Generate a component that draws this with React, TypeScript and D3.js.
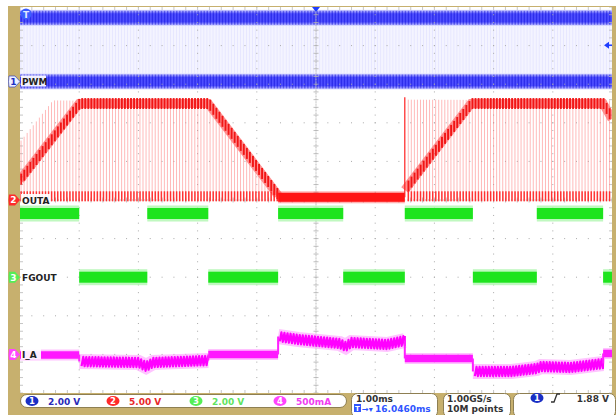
import React from "react";
import * as d3 from "d3";

const W = 616;
const H = 415;
const PX0 = 20, PX1 = 612, PY0 = 7, PY1 = 393;

const TIME_DOMAIN: [number, number] = [-5, 5]; // ms, 1.00 ms/div
const DIV_DOMAIN: [number, number] = [-5, 5]; // vertical divisions
const PWM_PERIOD_MS = 0.0515;

const CH_NUM = ["1", "2", "3", "4"];
const CH_LABEL = ["PWM", "OUTA", "FGOUT", "I_A"];
const CH_PER_DIV = [2, 5, 2, 500];
const CH_OFFSET_DIV = [3.07, 0, -2.0, -4.0];
const CH_READOUT = ["2.00 V", "5.00 V", "2.00 V", "500mA"];
const CH_READOUT_COLOR = ["#2a2ab8", "#e8282a", "#5fe45f", "#f03cf0"];
const CH_BADGE = ["#1a2fc4", "#ff2a2a", "#55ee55", "#ff44ff"];
const CH_READOUT_X = [32, 113, 196, 280];

// Channel 1 (PWM) levels, V
const PWM_LEVELS = [3.3, 0];

// Channel 2 (OUTA), V
const OUTA_ENV_T = [-5, -4.0, -1.82, -0.64, 1.5, 2.62, 4.85, 5];
const OUTA_ENV_V = [2.6, 12.5, 12.5, 0.6, 1.3, 12.5, 12.5, 10.5];
const OUTA_PEAK_T = [-5, -4.45, -1.82, -0.64, 1.5, 5];
const OUTA_PEAK_V = [7.6, 12.9, 12.7, 0.6, 13.0, 12.9];
const OUTA_ON_START = [-5, 1.5];
const OUTA_ON_END = [-0.64, 5];
const OUTA_LOW_V = 0.35;
const OUTA_SPIKE_T = 1.5;
const OUTA_SPIKE_V = 13.3;

// Channel 3 (FGOUT), V
const FG_EDGE_T = [-4.0, -2.85, -1.82, -0.64, 0.46, 1.5, 2.65, 3.73, 4.85];
const FG_LEVEL_V = [3.3, 0, 3.3, 0, 3.3, 0, 3.3, 0, 3.3, 0];

// Channel 4 (I_A), mA
const IA_SEG_T = [
  [-5, -4.0],
  [-4.0, -3.0, -2.87, -2.75, -1.82],
  [-1.82, -0.64],
  [-0.64, -0.3, 0.4, 0.5, 0.6, 1.2, 1.5],
  [1.5, 2.65],
  [2.65, 3.3, 3.73, 3.8, 4.3, 4.85],
  [4.85, 5],
];
const IA_SEG_MA = [
  [-8, -8],
  [-92, -105, -157, -105, -79],
  [-1, -1],
  [232, 193, 141, 102, 154, 128, 180],
  [-53, -53],
  [-221, -221, -183, -157, -170, -118],
  [12, 12],
];
const IA_SEG_RIPPLE = [false, true, false, true, false, true, false];
const IA_RIPPLE_PP = 120;

const FONT = "'DejaVu Sans', sans-serif";
const TAN = "#c7b06e";

export default function App() {
  const x = d3.scaleLinear().domain(TIME_DOMAIN).range([PX0, PX1]);
  const yDiv = d3.scaleLinear().domain(DIV_DOMAIN).range([PY1, PY0]);
  const yCh = (k: number) => (v: number) => yDiv(v / CH_PER_DIV[k] + CH_OFFSET_DIV[k]);
  const y1 = yCh(0), y2 = yCh(1), y3 = yCh(2), y4 = yCh(3);

  const nCycles = Math.floor((TIME_DOMAIN[1] - TIME_DOMAIN[0]) / PWM_PERIOD_MS);
  const cycles = d3.range(nCycles + 1).map((i) => TIME_DOMAIN[0] + 0.01 + i * PWM_PERIOD_MS).filter((t) => t < TIME_DOMAIN[1]);

  // grid
  const majors = d3.range(-4, 5);
  const minorT = d3.range(-5, 5.0001, 0.2);
  const minorD = d3.range(-5, 5.0001, 0.2);
  const fineD = d3.range(-5, 5.0001, 0.04);
  const gridEls: any[] = [];
  majors.forEach((m) => {
    if (m === 0) return;
    const gx = x(m);
    minorD.forEach((d, i) => gridEls.push(<rect key={`gv${m}-${i}`} x={gx - 0.5} y={yDiv(d) - 0.5} width={1} height={1} fill="#a9a9a9" />));
    const gy = yDiv(m);
    minorT.forEach((t, i) => gridEls.push(<rect key={`gh${m}-${i}`} x={x(t) - 0.5} y={gy - 0.5} width={1} height={1} fill="#a9a9a9" />));
  });
  fineD.forEach((d, i) => gridEls.push(<rect key={`cv${i}`} x={x(0) - 0.5} y={yDiv(d) - 0.5} width={1} height={1} fill="#b8b8b8" />));
  d3.range(-5, 5.0001, 0.05).forEach((t, i) => gridEls.push(<rect key={`ch${i}`} x={x(t) - 0.5} y={yDiv(0) - 0.5} width={1} height={1} fill="#b8b8b8" />));
  minorD.forEach((d, i) => {
    gridEls.push(<line key={`cvt${i}`} x1={x(0) - 2.5} x2={x(0) + 2.5} y1={yDiv(d)} y2={yDiv(d)} stroke="#b0b0b0" strokeWidth={0.8} />);
    gridEls.push(<line key={`lt${i}`} x1={PX0} x2={PX0 + 3} y1={yDiv(d)} y2={yDiv(d)} stroke="#b8b8b8" strokeWidth={0.8} />);
    gridEls.push(<line key={`rt${i}`} x1={PX1 - 3} x2={PX1} y1={yDiv(d)} y2={yDiv(d)} stroke="#b8b8b8" strokeWidth={0.8} />);
  });
  minorT.forEach((t, i) => {
    gridEls.push(<line key={`cht${i}`} x1={x(t)} x2={x(t)} y1={yDiv(0) - 2.5} y2={yDiv(0) + 2.5} stroke="#b0b0b0" strokeWidth={0.8} />);
    gridEls.push(<line key={`tt${i}`} x1={x(t)} x2={x(t)} y1={PY0} y2={PY0 + 3} stroke="#b8b8b8" strokeWidth={0.8} />);
    gridEls.push(<line key={`bt${i}`} x1={x(t)} x2={x(t)} y1={PY1 - 3} y2={PY1} stroke="#b8b8b8" strokeWidth={0.8} />);
  });

  // ---- Channel 1 PWM
  const hiY = y1(PWM_LEVELS[0]);
  const loY = y1(PWM_LEVELS[1]);
  const bandH = 16;
  const ch1Els: any[] = [];
  ch1Els.push(<rect key="c1mid" x={PX0} y={hiY + bandH / 2} width={PX1 - PX0} height={loY - hiY - bandH} fill="#f4f4ff" />);
  ch1Els.push(<rect key="c1hi" x={PX0} y={hiY - bandH / 2} width={PX1 - PX0} height={bandH} fill="url(#blueBand)" />);
  ch1Els.push(<rect key="c1lo" x={PX0} y={loY - bandH / 2} width={PX1 - PX0} height={bandH} fill="url(#blueBand)" />);
  cycles.forEach((t, i) => {
    const cx = x(t);
    ch1Els.push(<rect key={`c1s${i}`} x={cx} y={hiY - bandH / 2 + 1} width={1.4} height={bandH - 2} fill="#0000d0" opacity={0.42} />);
    ch1Els.push(<rect key={`c1l${i}`} x={cx} y={loY - bandH / 2 + 1} width={1.4} height={bandH - 2} fill="#0000d0" opacity={0.42} />);
    ch1Els.push(<rect key={`c1m${i}`} x={cx} y={hiY + bandH / 2} width={0.7} height={loY - hiY - bandH} fill="#c4c4ff" opacity={0.35} />);
  });

  // ---- Channel 2 OUTA
  const env = d3.scaleLinear().domain(OUTA_ENV_T).range(OUTA_ENV_V);
  const peak = d3.scaleLinear().domain(OUTA_PEAK_T).range(OUTA_PEAK_V);
  const lowY = y2(OUTA_LOW_V);
  const isOn = (t: number) => OUTA_ON_START.some((s, i) => t >= s && t <= OUTA_ON_END[i]);
  const ch2Els: any[] = [];
  const lineGen = d3.line<[number, number]>().x((d) => x(d[0])).y((d) => y2(d[1]));
  OUTA_ON_START.forEach((s, i) => {
    const e = OUTA_ON_END[i];
    const ts = [s, ...OUTA_ENV_T.filter((t) => t > s && t < e), e];
    ch2Els.push(<path key={`envb${i}`} d={lineGen(ts.map((t) => [t, env(t)]) as any) || ""} stroke="#ff4a4a" strokeWidth={9} fill="none" opacity={0.6} />);
  });
  cycles.filter(isOn).forEach((t, i) => {
    const cx = x(t);
    const ey = y2(env(t));
    const py = Math.min(y2(peak(t)), ey);
    ch2Els.push(<rect key={`c2s${i}`} x={cx} y={py} width={0.9} height={lowY + 4 - py} fill="#ff8080" opacity={0.6} />);
    ch2Els.push(<rect key={`c2e${i}`} x={cx - 0.3} y={ey - 5.5} width={1.9} height={11} fill="#ee0000" opacity={0.85} />);
    ch2Els.push(<rect key={`c2b${i}`} x={cx - 0.2} y={lowY - 6} width={1.5} height={10} fill="#ff1a1a" opacity={0.85} />);
  });
  ch2Els.push(<rect key="c2off2" x={x(OUTA_ON_END[0])} y={lowY - 6} width={x(OUTA_ON_START[1]) - x(OUTA_ON_END[0])} height={12} fill="#ff4040" opacity={0.4} />);
  ch2Els.push(<rect key="c2off" x={x(OUTA_ON_END[0])} y={lowY - 4.5} width={x(OUTA_ON_START[1]) - x(OUTA_ON_END[0])} height={9} fill="#ff1414" />);
  ch2Els.push(<line key="spike" x1={x(OUTA_SPIKE_T)} x2={x(OUTA_SPIKE_T)} y1={y2(OUTA_SPIKE_V)} y2={lowY} stroke="#ff2020" strokeWidth={1.2} />);

  // ---- Channel 3 FGOUT
  const fgBounds = [TIME_DOMAIN[0], ...FG_EDGE_T, TIME_DOMAIN[1]];
  const ch3Els: any[] = [];
  FG_LEVEL_V.forEach((v, i) => {
    const x0 = x(fgBounds[i]);
    const x1 = x(fgBounds[i + 1]);
    const cy = y3(v);
    ch3Els.push(<rect key={`fgh${i}`} x={x0} y={cy - 8} width={x1 - x0} height={16} fill="#b0f6b0" opacity={0.8} />);
    ch3Els.push(<rect key={`fgc${i}`} x={x0} y={cy - 5.5} width={x1 - x0} height={11} fill="#1ee41e" />);
  });

  // ---- Channel 4 I_A
  const iaLine = d3.line<[number, number]>().x((d) => x(d[0])).y((d) => y4(d[1]));
  const ch4Els: any[] = [];
  IA_SEG_T.forEach((segT, si) => {
    const c = d3.scaleLinear().domain(segT).range(IA_SEG_MA[si]);
    const t0 = segT[0], t1 = segT[segT.length - 1];
    const centre = segT.map((t, j) => [t, IA_SEG_MA[si][j]] as [number, number]);
    if (!IA_SEG_RIPPLE[si]) {
      ch4Els.push(<path key={`iah${si}`} d={iaLine(centre) || ""} stroke="#ffa8ff" strokeWidth={11} fill="none" opacity={0.7} />);
      ch4Els.push(<path key={`iac${si}`} d={iaLine(centre) || ""} stroke="#ff18ff" strokeWidth={7.5} fill="none" />);
    } else {
      const pts: [number, number][] = [];
      cycles.filter((t) => t >= t0 && t < t1).forEach((t) => {
        pts.push([t, c(t) - IA_RIPPLE_PP / 2]);
        const tm = Math.min(t + PWM_PERIOD_MS * 0.55, t1);
        pts.push([tm, c(tm) + IA_RIPPLE_PP / 2]);
      });
      ch4Els.push(<path key={`iah${si}`} d={iaLine(centre) || ""} stroke="#ff9cff" strokeWidth={15} fill="none" opacity={0.6} />);
      ch4Els.push(<path key={`iaz${si}`} d={iaLine(pts) || ""} stroke="#ff00ff" strokeWidth={2.2} fill="none" strokeLinejoin="round" />);
    }
  });
  IA_SEG_T.forEach((segT, si) => {
    if (si === 0) return;
    const prev = IA_SEG_MA[si - 1][IA_SEG_MA[si - 1].length - 1];
    const next = IA_SEG_MA[si][0];
    const t = segT[0];
    ch4Els.push(<line key={`iaj${si}`} x1={x(t)} x2={x(t)} y1={y4(prev)} y2={y4(next)} stroke="#ff20ff" strokeWidth={2} />);
  });

  const ground = [y1(0), y2(0), y3(0), y4(0)];
  const labelW = [25, 29, 35, 20];

  return (
    <svg width={W} height={H} style={{ position: "absolute", left: 0, top: 0, background: "#fff" }} fontFamily={FONT}>
      <defs>
        <linearGradient id="blueBand" x1="0" x2="0" y1="0" y2="1">
          <stop offset="0" stopColor="#4040ff" stopOpacity={0.2} />
          <stop offset="0.25" stopColor="#4040ff" stopOpacity={0.92} />
          <stop offset="0.75" stopColor="#4040ff" stopOpacity={0.92} />
          <stop offset="1" stopColor="#4040ff" stopOpacity={0.2} />
        </linearGradient>
        <clipPath id="plotClip">
          <rect x={PX0} y={PY0} width={PX1 - PX0} height={PY1 - PY0} />
        </clipPath>
      </defs>
      <rect x={8} y={6} width={W - 8} height={H - 6} fill={TAN} />
      <rect x={PX0} y={PY0} width={PX1 - PX0} height={PY1 - PY0} fill="#ffffff" />
      <g clipPath="url(#plotClip)">
        <g>{ch1Els}</g>
        <g>{gridEls}</g>
        <g>{ch2Els}</g>
        <g>{ch3Els}</g>
        <g>{ch4Els}</g>
      </g>

      {/* trigger markers */}
      <circle cx={26} cy={14} r={5.5} fill="#3b5cff" />
      <text x={26} y={17.5} fontSize={9} fontWeight="bold" fill="#dfe6ff" textAnchor="middle">T</text>
      <path d={`M${x(0) - 4},${PY0} L${x(0) + 4},${PY0} L${x(0)},${PY0 + 5} Z`} fill="#1e3cff" />
      <path d={`M${PX1 - 8},${y1(1.88)} L${PX1 - 3},${y1(1.88) - 3.5} L${PX1 - 3},${y1(1.88) + 3.5} Z`} fill="#1e3cff" />
      <line x1={PX1 - 4} x2={PX1} y1={y1(1.88)} y2={y1(1.88)} stroke="#1e3cff" strokeWidth={1.5} />

      {/* ground markers + labels */}
      {CH_NUM.map((n, k) => {
        const gy = ground[k];
        const fill = k === 0 ? "#eef0ff" : CH_BADGE[k];
        const tc = k === 0 ? "#1a2fc4" : "#ffffff";
        return (
          <g key={`gm${k}`}>
            <path d={`M9,${gy - 5.5} H15 L20,${gy} L15,${gy + 5.5} H9 Q8,${gy} 9,${gy - 5.5} Z`} fill={fill} stroke={k === 0 ? "#1a2fc4" : "none"} strokeWidth={0.6} />
            <text x={13.5} y={gy + 3.3} fontSize={9} fontWeight="bold" fill={tc} textAnchor="middle">{n}</text>
            <rect x={21} y={gy - 6} width={labelW[k]} height={11} fill="#ffffff" opacity={0.92} />
            <text x={22} y={gy + 3.5} fontSize={9} fontWeight="bold" fill="#222">{CH_LABEL[k]}</text>
          </g>
        );
      })}

      {/* status bar */}
      <rect x={20.5} y={394.5} width={326} height={13} rx={6.5} fill="#ffffff" stroke="#8e7f52" strokeWidth={1} />
      {CH_NUM.map((n, k) => (
        <g key={`ro${k}`}>
          <ellipse cx={CH_READOUT_X[k]} cy={401} rx={6.5} ry={5} fill={CH_BADGE[k]} />
          <text x={CH_READOUT_X[k]} y={404.3} fontSize={8.5} fontWeight="bold" fill="#fff" textAnchor="middle">{n}</text>
          <text x={CH_READOUT_X[k] + 16} y={404.5} fontSize={9} fontWeight="bold" fill={CH_READOUT_COLOR[k]}>{CH_READOUT[k]}</text>
        </g>
      ))}
      <rect x={351.5} y={393.5} width={86} height={24} rx={6} fill="#ffffff" stroke="#8e7f52" strokeWidth={1} />
      <text x={356} y={401.5} fontSize={9} fontWeight="bold" fill="#333">1.00ms</text>
      <rect x={354} y={404} width={7} height={8} fill="#2f55ff" />
      <text x={357.5} y={411} fontSize={7} fontWeight="bold" fill="#fff" textAnchor="middle">T</text>
      <text x={362} y={411.5} fontSize={8} fontWeight="bold" fill="#2f55ff">→▾</text>
      <text x={375} y={412} fontSize={9} fontWeight="bold" fill="#2f55ff">16.0460ms</text>
      <rect x={443.5} y={393.5} width={67} height={24} rx={6} fill="#ffffff" stroke="#8e7f52" strokeWidth={1} />
      <text x={447} y={401.5} fontSize={9} fontWeight="bold" fill="#333">1.00GS/s</text>
      <text x={447} y={412} fontSize={9} fontWeight="bold" fill="#333">10M points</text>
      <rect x={513.5} y={393.5} width={102} height={24} rx={6} fill="#ffffff" stroke="#8e7f52" strokeWidth={1} />
      <ellipse cx={537} cy={398} rx={6.5} ry={5} fill="#1a2fc4" />
      <text x={537} y={401.3} fontSize={8.5} fontWeight="bold" fill="#fff" textAnchor="middle">1</text>
      <path d="M551,402 L554,402 L557,394 L560,394" stroke="#333" strokeWidth={1.3} fill="none" />
      <text x={609} y={401.5} fontSize={9} fontWeight="bold" fill="#333" textAnchor="end">1.88 V</text>
    </svg>
  );
}
